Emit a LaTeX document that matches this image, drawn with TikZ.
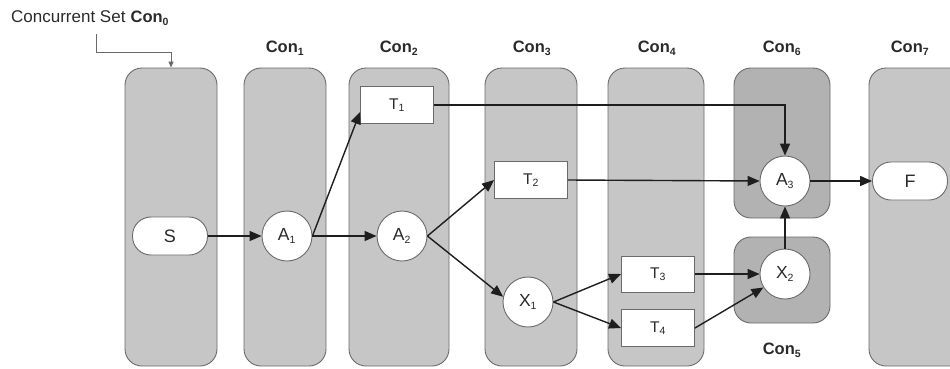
\documentclass[tikz,border=0pt]{standalone}
\usepackage{fontspec}
\setmainfont{Liberation Sans}
\usetikzlibrary{arrows.meta}
\definecolor{colfill}{HTML}{C6C6C6}
\definecolor{setfill}{HTML}{B2B2B2}
\definecolor{colline}{HTML}{6A6A6A}
\definecolor{ink}{HTML}{1E1E1E}
\definecolor{txt}{HTML}{2A2A2A}
\tikzset{
  column/.style={draw=colline, fill=colfill, line width=0.9pt, rounded corners=17pt},
  setbox/.style={draw=colline, fill=setfill, line width=0.9pt, rounded corners=17pt},
  conlabel/.style={font=\fontsize{16.5}{18}\selectfont\bfseries, text=txt, inner sep=0pt},
  state/.style={circle, draw=colline, fill=white, line width=0.9pt, minimum size=50pt, inner sep=0pt,
                font=\fontsize{17.5}{20}\selectfont, text=txt},
  task/.style={rectangle, draw=colline, fill=white, line width=0.9pt, minimum width=73pt, minimum height=37pt,
               inner sep=0pt, font=\fontsize{15.5}{17}\selectfont, text=txt},
  terminal/.style={rectangle, rounded corners=18.5pt, draw=colline, fill=white, line width=0.9pt,
                   minimum width=75pt, minimum height=38pt, inner sep=0pt, font=\fontsize{18}{20}\selectfont, text=txt},
  flow/.style={draw=ink, line width=1.4pt, -{Triangle[length=12pt,width=10pt]}},
  pointer/.style={draw=colline, line width=0.8pt, -{Triangle[length=6pt,width=5pt]}},
}
\newcommand{\conname}[1]{Con\textsubscript{\fontsize{10.5}{11}\selectfont #1}}
\newcommand{\lbl}[2]{#1\textsubscript{\fontsize{10.5}{12}\selectfont #2}}
\begin{document}
\begin{tikzpicture}[x=1pt, y=-1pt]
\useasboundingbox (0,0) rectangle (950,368);
\clip (0,0) rectangle (950,368);

% concurrent set columns
\node[column, minimum width=92pt, minimum height=298pt, inner sep=0pt] (col0) at (171,217) {};
\node[column, minimum width=82pt, minimum height=298pt, inner sep=0pt] (col1) at (285,217) {};
\node[column, minimum width=100pt, minimum height=298pt, inner sep=0pt] (col2) at (399,217) {};
\node[column, minimum width=92pt, minimum height=298pt, inner sep=0pt] (col3) at (531,217) {};
\node[column, minimum width=96pt, minimum height=298pt, inner sep=0pt] (col4) at (656,217) {};
\node[setbox, minimum width=96pt, minimum height=150pt, inner sep=0pt] (col6) at (782,143) {};
\node[setbox, minimum width=96pt, minimum height=86pt, inner sep=0pt] (col5) at (782,280) {};
\node[column, minimum width=100pt, minimum height=298pt, inner sep=0pt] (col7) at (919,217) {};

% set labels
\node[font=\fontsize{17}{19}\selectfont, text=txt, anchor=west, inner sep=0pt] (title) at (11,18)
  {Concurrent Set\hspace{0.3em}\textbf{\fontsize{16.5}{18}\selectfont\conname{0}}};
\node[conlabel] (l1) at (285,48) {\conname{1}};
\node[conlabel] (l2) at (399,48) {\conname{2}};
\node[conlabel] (l3) at (532,48) {\conname{3}};
\node[conlabel] (l4) at (657,48) {\conname{4}};
\node[conlabel] (l6) at (782,48) {\conname{6}};
\node[conlabel] (l7) at (910,48) {\conname{7}};
\node[conlabel] (l5) at (782,350) {\conname{5}};

% pointer from the title to the first set
\coordinate (p0) at (96,34);
\coordinate (p1) at (96,52);
\coordinate (p2) at (171,52);
\draw[pointer] (p0) -- (p1) -- (p2) -- (col0.north);

% activities and tasks
\node[terminal] (S) at (170,236) {S};
\node[state] (A1) at (287,236) {\lbl{A}{1}};
\node[state] (A2) at (402,236) {\lbl{A}{2}};
\node[task] (T1) at (397,105) {\lbl{T}{1}};
\node[task] (T2) at (531,180) {\lbl{T}{2}};
\node[state] (X1) at (528,302) {\lbl{X}{1}};
\node[task, minimum height=36pt] (T3) at (658,274) {\lbl{T}{3}};
\node[task] (T4) at (658,328) {\lbl{T}{4}};
\node[state] (A3) at (785,181) {\lbl{A}{3}};
\node[state] (X2) at (785,274) {\lbl{X}{2}};
\node[terminal] (F) at (910,181) {F};

% control flow
\draw[flow] (S.east) -- (A1.west);
\draw[flow] (A1.east) -- (A2.west);
\draw[flow] (A1.east) -- ([yshift=-7pt]T1.west);
\draw[flow] (T1.east) -| (A3.north);
\draw[flow] (A2.east) -- (T2.west);
\draw[flow] (A2.east) -- (X1.168);
\draw[flow] (T2.east) -- (A3.west);
\draw[flow] (X1.east) -- (T3.west);
\draw[flow] (X1.east) -- (T4.west);
\draw[flow] (T3.east) -- (X2.west);
\draw[flow] (T4.east) -- (X2.212);
\draw[flow] (X2.north) -- (A3.south);
\draw[flow] (A3.east) -- (F.west);
\end{tikzpicture}
\end{document}
